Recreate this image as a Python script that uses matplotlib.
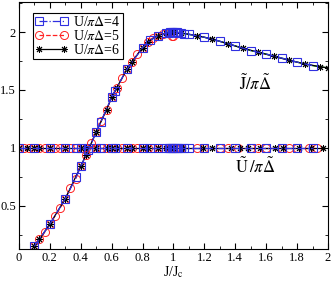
import matplotlib

matplotlib.use("Agg")
import matplotlib.pyplot as plt  # noqa: E402
from matplotlib.ticker import MultipleLocator, FixedLocator, FixedFormatter  # noqa: E402

plt.rcParams["font.family"] = ["Liberation Serif", "DejaVu Serif"]
plt.rcParams["mathtext.fontset"] = "stix"

# J~/pi Delta~ vs J/Jc, one set of points per U/pi Delta
j4_x = [0.1, 0.2, 0.3, 0.37, 0.4, 0.45, 0.5, 0.53, 0.6, 0.62, 0.7, 0.8, 0.85, 0.9,
        0.95, 0.97, 0.98, 0.99, 1.0, 1.01, 1.02, 1.03, 1.05, 1.07, 1.1, 1.2, 1.3,
        1.4, 1.5, 1.6, 1.7, 1.8, 1.9]
j4_y = [0.148, 0.34, 0.56, 0.745, 0.84, 0.98, 1.135, 1.225, 1.435, 1.49, 1.68, 1.865,
        1.93, 1.97, 1.99, 1.995, 1.998, 2.0, 2.0, 2.0, 1.998, 1.996, 1.992, 1.987,
        1.98, 1.955, 1.92, 1.88, 1.84, 1.81, 1.775, 1.74, 1.71]

j5_x = [0.1, 0.133, 0.167, 0.2, 0.233, 0.267, 0.3, 0.333, 0.367, 0.4, 0.433, 0.467,
        0.5, 0.533, 0.567, 0.6, 0.633, 0.667, 0.7, 0.733, 0.767, 0.8, 0.833, 0.867,
        0.9, 0.933, 0.967, 0.98, 0.99, 1.0]
j5_y = [0.148, 0.21, 0.27, 0.34, 0.41, 0.48, 0.56, 0.65, 0.73, 0.84, 0.935, 1.04,
        1.135, 1.235, 1.33, 1.435, 1.52, 1.60, 1.68, 1.745, 1.81, 1.865, 1.915, 1.95,
        1.97, 1.985, 1.995, 1.998, 1.97, 1.965]

j6_x = [0.1, 0.133, 0.2, 0.3, 0.4, 0.433, 0.5, 0.567, 0.6, 0.633, 0.7, 0.733, 0.8,
        0.833, 0.9, 0.95, 0.98, 1.0, 1.05, 1.15, 1.25, 1.35, 1.45, 1.55, 1.65, 1.75,
        1.85, 1.95, 2.0]
j6_y = [0.148, 0.21, 0.34, 0.56, 0.84, 0.935, 1.135, 1.33, 1.435, 1.52, 1.68, 1.745,
        1.865, 1.915, 1.97, 1.99, 1.998, 2.0, 1.992, 1.97, 1.94, 1.90, 1.86, 1.825,
        1.79, 1.755, 1.725, 1.70, 1.69]

# thin green curve under the decreasing branch
jg_x = [1.0, 1.1, 1.2, 1.3, 1.4, 1.5, 1.6, 1.7, 1.8, 1.9, 2.0]
jg_y = [2.0, 1.98, 1.955, 1.92, 1.88, 1.84, 1.81, 1.775, 1.74, 1.71, 1.69]

# U~/pi Delta~ stays at 1 for every J
u_level = 1.0
u4_x = [0, 0.1, 0.2, 0.3, 0.37, 0.4, 0.45, 0.5, 0.53, 0.6, 0.62, 0.7, 0.8, 0.85, 0.9,
        0.95, 0.97, 0.98, 0.99, 1.0, 1.01, 1.02, 1.03, 1.05, 1.07, 1.1, 1.2, 1.3,
        1.4, 1.5, 1.6, 1.7, 1.8, 1.9]
u5_x = [0, 0.033, 0.067, 0.1, 0.133, 0.167, 0.2, 0.233, 0.267, 0.3, 0.333, 0.367,
        0.4, 0.433, 0.467, 0.5, 0.533, 0.567, 0.6, 0.633, 0.667, 0.7, 0.733, 0.767,
        0.8, 0.833, 0.867, 0.9, 0.933, 0.967, 0.98, 0.99, 1.0, 1.05, 1.15, 1.2, 1.3,
        1.35, 1.42, 1.5, 1.55, 1.6, 1.7, 1.75, 1.8, 1.88, 1.93]
u6_x = [0, 0.05, 0.1, 0.133, 0.2, 0.3, 0.4, 0.433, 0.5, 0.567, 0.6, 0.633, 0.7, 0.733,
        0.8, 0.833, 0.9, 0.95, 0.98, 1.0, 1.06, 1.19, 1.25, 1.37, 1.43, 1.48, 1.56,
        1.66, 1.71, 1.81, 1.89, 1.97]

x_ticks = [0, 0.2, 0.4, 0.6, 0.8, 1.0, 1.2, 1.4, 1.6, 1.8, 2.0]
x_labels = ["0", "0.2", "0.4", "0.6", "0.8", "1", "1.2", "1.4", "1.6", "1.8", "2"]
y_ticks = [0.5, 1.0, 1.5, 2.0]
y_labels = ["0.5", "1", "1.5", "2"]

fig = plt.figure(figsize=(3.32, 2.82), dpi=100)
ax = fig.add_axes([0.057, 0.117, 0.931, 0.876])

sq = dict(color="#3030e0", ls="-.", lw=0.9, marker="s", ms=5.2, mfc="none", mew=0.8)
ci = dict(color="#ff2020", ls="--", lw=0.9, marker="o", ms=5.8, mfc="none", mew=0.7)
st = dict(color="black", ls="-", lw=0.9, marker=(8, 2, 0), ms=5, mew=0.7)

ax.plot(u5_x, [u_level] * len(u5_x), **ci)
ax.plot(u6_x, [u_level] * len(u6_x), **st)
ax.plot(u4_x, [u_level] * len(u4_x), **sq)

ax.plot(jg_x, jg_y, color="#1a8a1a", lw=1.0)
ax.plot(j5_x, j5_y, label=r"U/$\pi\Delta$=5", **ci)
ax.plot(j6_x, j6_y, label=r"U/$\pi\Delta$=6", **st)
ax.plot(j4_x, j4_y, label=r"U/$\pi\Delta$=4", **sq)

ax.set_xlim(0, 2)
ax.set_ylim(0.125, 2.26)
ax.xaxis.set_major_locator(FixedLocator(x_ticks))
ax.xaxis.set_major_formatter(FixedFormatter(x_labels))
ax.xaxis.set_minor_locator(MultipleLocator(0.1))
ax.yaxis.set_major_locator(FixedLocator(y_ticks))
ax.yaxis.set_major_formatter(FixedFormatter(y_labels))
ax.yaxis.set_minor_locator(MultipleLocator(0.25))
ax.tick_params(which="both", direction="in", top=True, right=True, labelsize=9, pad=2)
ax.tick_params(which="major", length=4)
ax.tick_params(which="minor", length=2)

ax.set_xlabel(r"J/J$_{\mathrm{c}}$", fontsize=10, labelpad=0)

ax.text(1.53, 1.55, r"$\tilde{\mathrm{J}}/\pi\tilde{\Delta}$", fontsize=12,
        ha="center", va="center")
ax.text(1.53, 0.83, r"$\tilde{\mathrm{U}}\,/\pi\tilde{\Delta}$", fontsize=12,
        ha="center", va="center")

handles, labels = ax.get_legend_handles_labels()
order = [2, 0, 1]
leg = ax.legend([handles[i] for i in order], [labels[i] for i in order],
                loc="upper left", bbox_to_anchor=(0.045, 0.955), fontsize=10,
                numpoints=2, handlelength=2.4, handletextpad=0.35,
                borderpad=0.15, labelspacing=0.0, borderaxespad=0.0,
                fancybox=False, framealpha=1.0)
leg.get_frame().set_edgecolor("black")
leg.get_frame().set_linewidth(0.8)

fig.savefig("out.png", dpi=100)
